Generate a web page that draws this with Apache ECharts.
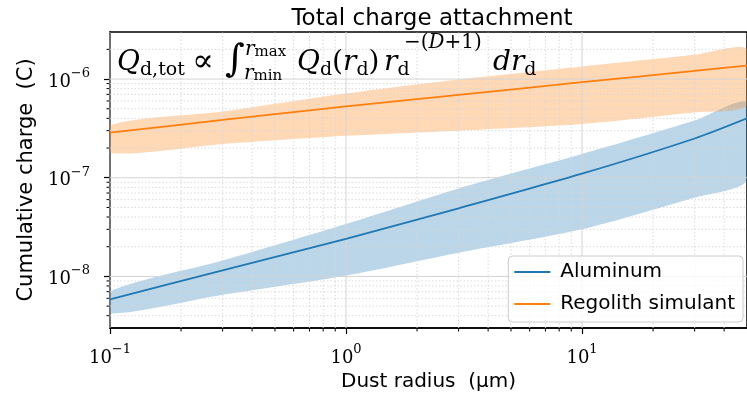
<!DOCTYPE html>
<html>
<head>
<meta charset="UTF-8" />
<title>Total charge attachment</title>
<script src="https://cdn.jsdelivr.net/npm/echarts@6/dist/echarts.min.js"></script>
<style>
  body { margin: 0; padding: 0; background: #fff; }
  #main { width: 747px; height: 400px; }
</style>
</head>
<body>
<div id="main"></div>
<script>
// dust radius (um) and cumulative charge (C)
var radius = [0.1, 0.3, 1, 3, 10, 30, 50];
var aluMid = [5.85e-9, 1.15e-8, 2.4e-8, 4.9e-8, 1.1e-7, 2.5e-7, 4.0e-7];
var aluLow = [4.2e-9, 6.5e-9, 1.02e-8, 1.74e-8, 3.0e-8, 6.3e-8, 9.4e-8];
var aluHigh = [7.05e-9, 1.45e-8, 3.4e-8, 7.8e-8, 1.74e-7, 3.8e-7, 5.8e-7];
var regMid = [2.86e-7, 3.85e-7, 5.3e-7, 6.9e-7, 9.3e-7, 1.21e-6, 1.37e-6];
var regLow = [1.79e-7, 2.2e-7, 2.66e-7, 3.0e-7, 3.5e-7, 4.6e-7, 5.4e-7];
var regHigh = [3.4e-7, 4.7e-7, 7.15e-7, 9.9e-7, 1.34e-6, 1.76e-6, 2.02e-6];

var xTicks = [0.1, 1, 10];
var yTicks = [1e-8, 1e-7, 1e-6];
var xMinor = [0.2, 0.3, 0.4, 0.5, 0.6, 0.7, 0.8, 0.9, 2, 3, 4, 5, 6, 7, 8, 9, 20, 30, 40];
var yMinor = [4e-9, 5e-9, 6e-9, 7e-9, 8e-9, 9e-9, 2e-8, 3e-8, 4e-8, 5e-8, 6e-8, 7e-8, 8e-8, 9e-8,
  2e-7, 3e-7, 4e-7, 5e-7, 6e-7, 7e-7, 8e-7, 9e-7, 2e-6];
var xMin = 0.1, xMax = 50, yMin = 3e-9, yMax = 3e-6;

var serif = "'DejaVu Serif', serif";
var sans = "'DejaVu Sans', sans-serif";

function powLabel(v) {
  var e = Math.round(Math.log10(v));
  return '{b|10}{s|' + (e < 0 ? '\u2212' + (-e) : e) + '}';
}
var powRich = {
  b: { fontFamily: serif, fontSize: 18, lineHeight: 24, verticalAlign: 'bottom', color: '#000' },
  s: { fontFamily: serif, fontSize: 13, lineHeight: 13, verticalAlign: 'top', color: '#000' }
};

function band(name, low, high, color) {
  return {
    type: 'custom',
    name: name,
    silent: true,
    z: 1,
    clip: true,
    data: [[radius[0], low[0]]],
    renderItem: function (params, api) {
      var pts = [];
      for (var i = 0; i < radius.length; i++) pts.push(api.coord([radius[i], high[i]]));
      for (var j = radius.length - 1; j >= 0; j--) pts.push(api.coord([radius[j], low[j]]));
      return { type: 'polygon', shape: { points: pts, smooth: 0.25 }, style: { fill: color } };
    }
  };
}

function gridLine(a, b, dashed) {
  return {
    type: 'line',
    shape: { x1: a[0], y1: a[1], x2: b[0], y2: b[1] },
    style: dashed ? { stroke: '#d6d6d6', lineWidth: 0.9, lineDash: [1.5, 2] }
                  : { stroke: '#d4d4d4', lineWidth: 1 }
  };
}

// grid lines drawn over the bands, like matplotlib does
var gridOverlay = {
  type: 'custom',
  name: 'grid',
  silent: true,
  z: 2,
  clip: false,
  data: [[1, 1e-7]],
  renderItem: function (params, api) {
    var kids = [];
    xMinor.forEach(function (x) {
      var p0 = api.coord([x, yMin]), p1 = api.coord([x, yMax]);
      kids.push(gridLine(p0, p1, true));
      kids.push({ type: 'line', shape: { x1: p0[0], y1: p0[1], x2: p0[0], y2: p0[1] + 3.5 }, style: { stroke: '#000', lineWidth: 1 } });
    });
    yMinor.forEach(function (y) {
      var p0 = api.coord([xMin, y]), p1 = api.coord([xMax, y]);
      kids.push(gridLine(p0, p1, true));
      kids.push({ type: 'line', shape: { x1: p0[0] - 3.5, y1: p0[1], x2: p0[0], y2: p0[1] }, style: { stroke: '#000', lineWidth: 1 } });
    });
    xTicks.forEach(function (x) {
      kids.push(gridLine(api.coord([x, yMin]), api.coord([x, yMax]), false));
    });
    yTicks.forEach(function (y) {
      kids.push(gridLine(api.coord([xMin, y]), api.coord([xMax, y]), false));
    });
    return { type: 'group', children: kids };
  }
};

var mainI = { fontFamily: serif, fontStyle: 'italic', fontSize: 28, lineHeight: 34, verticalAlign: 'middle', color: '#000' };
var mainN = { fontFamily: serif, fontSize: 28, lineHeight: 34, verticalAlign: 'middle', color: '#000' };
var subN = { fontFamily: serif, fontSize: 19, lineHeight: 22, verticalAlign: 'bottom', color: '#000' };
var limR = { fontFamily: serif, fontStyle: 'italic', fontSize: 20, lineHeight: 20, verticalAlign: 'middle', color: '#000' };
var limT = { fontFamily: serif, fontSize: 15, lineHeight: 13, verticalAlign: 'bottom', color: '#000' };

var chart = echarts.init(document.getElementById('main'));
chart.setOption({
  animation: false,
  backgroundColor: '#fff',
  title: {
    text: 'Total charge attachment',
    left: 427, top: 3, textAlign: 'center',
    textStyle: { fontFamily: sans, fontSize: 23, fontWeight: 'normal', color: '#000' }
  },
  grid: { left: 110, right: 0, top: 32, bottom: 72, show: true, borderColor: '#000', borderWidth: 1.5 },
  legend: {
    orient: 'vertical', right: 4, bottom: 78,
    data: [{ name: 'Aluminum', icon: 'rect' }, { name: 'Regolith simulant', icon: 'rect' }],
    itemWidth: 36, itemHeight: 2, itemGap: 12,
    padding: [6, 8, 8, 6],
    backgroundColor: 'rgba(255,255,255,0.8)', borderColor: '#cccccc', borderWidth: 1, borderRadius: 4,
    textStyle: { fontFamily: sans, fontSize: 20, color: '#000', padding: [0, 0, 0, 5] }
  },
  xAxis: {
    type: 'log', logBase: 10, min: xMin, max: xMax,
    name: 'Dust radius  (\u00b5m)', nameLocation: 'middle', nameGap: 44,
    nameTextStyle: { fontFamily: sans, fontSize: 20, color: '#000' },
    axisLine: { lineStyle: { color: '#000', width: 1.5 } },
    axisTick: { length: 6, customValues: xTicks, lineStyle: { color: '#000', width: 1.2 } },
    axisLabel: { customValues: xTicks, margin: 15, formatter: powLabel, rich: powRich },
    splitLine: { show: false }
  },
  yAxis: {
    type: 'log', logBase: 10, min: yMin, max: yMax,
    name: 'Cumulative charge  (C)', nameLocation: 'middle', nameGap: 70,
    nameTextStyle: { fontFamily: sans, fontSize: 21, color: '#000' },
    axisLine: { lineStyle: { color: '#000', width: 1.5 } },
    axisTick: { length: 6, customValues: yTicks, lineStyle: { color: '#000', width: 1.2 } },
    axisLabel: { customValues: yTicks, margin: 20, formatter: powLabel, rich: powRich },
    splitLine: { show: false }
  },
  series: [
    band('Aluminum band', aluLow, aluHigh, 'rgba(31,119,180,0.3)'),
    band('Regolith band', regLow, regHigh, 'rgba(255,127,14,0.3)'),
    gridOverlay,
    {
      type: 'line', name: 'Aluminum', z: 3, showSymbol: false, smooth: 0.25,
      color: '#1f77b4', lineStyle: { width: 1.8 },
      data: radius.map(function (r, i) { return [r, aluMid[i]]; })
    },
    {
      type: 'line', name: 'Regolith simulant', z: 3, showSymbol: false, smooth: 0.25,
      color: '#ff7f0e', lineStyle: { width: 1.8 },
      data: radius.map(function (r, i) { return [r, regMid[i]]; })
    }
  ],
  graphic: [
    { type: 'text', x: 117, y: 63, z: 10, style: { text: '{i|Q}{s|d,tot}', verticalAlign: 'middle', rich: { i: mainI, s: subN } } },
    { type: 'text', x: 192, y: 63, z: 10, style: { text: '\u221d', fontFamily: serif, fontSize: 32, verticalAlign: 'middle' } },
    { type: 'text', x: 225, y: 61, z: 10, style: { text: '\u222b', fontFamily: serif, fontSize: 38, verticalAlign: 'middle' } },
    { type: 'text', x: 245, y: 50, z: 10, style: { text: '{r|r}{t|max}', verticalAlign: 'middle', rich: { r: limR, t: limT } } },
    { type: 'text', x: 244, y: 74, z: 10, style: { text: '{r|r}{t|min}', verticalAlign: 'middle', rich: { r: limR, t: limT } } },
    { type: 'text', x: 297, y: 63, z: 10, style: { text: '{i|Q}{s|d}{n|(}{i|r}{s|d}{n|)}', verticalAlign: 'middle', rich: { i: mainI, n: mainN, s: subN } } },
    { type: 'text', x: 384, y: 63, z: 10, style: { text: '{i|r}{s|d}', verticalAlign: 'middle', rich: { i: mainI, s: subN } } },
    { type: 'text', x: 404, y: 43, z: 10, style: { text: '{n|\u2212(}{i|D}{n|+1)}', verticalAlign: 'middle',
      rich: { i: { fontFamily: serif, fontStyle: 'italic', fontSize: 20 }, n: { fontFamily: serif, fontSize: 20 } } } },
    { type: 'text', x: 493, y: 63, z: 10, style: { text: '{i|dr}{s|d}', verticalAlign: 'middle', rich: { i: mainI, s: subN } } }
  ]
});
</script>
</body>
</html>
